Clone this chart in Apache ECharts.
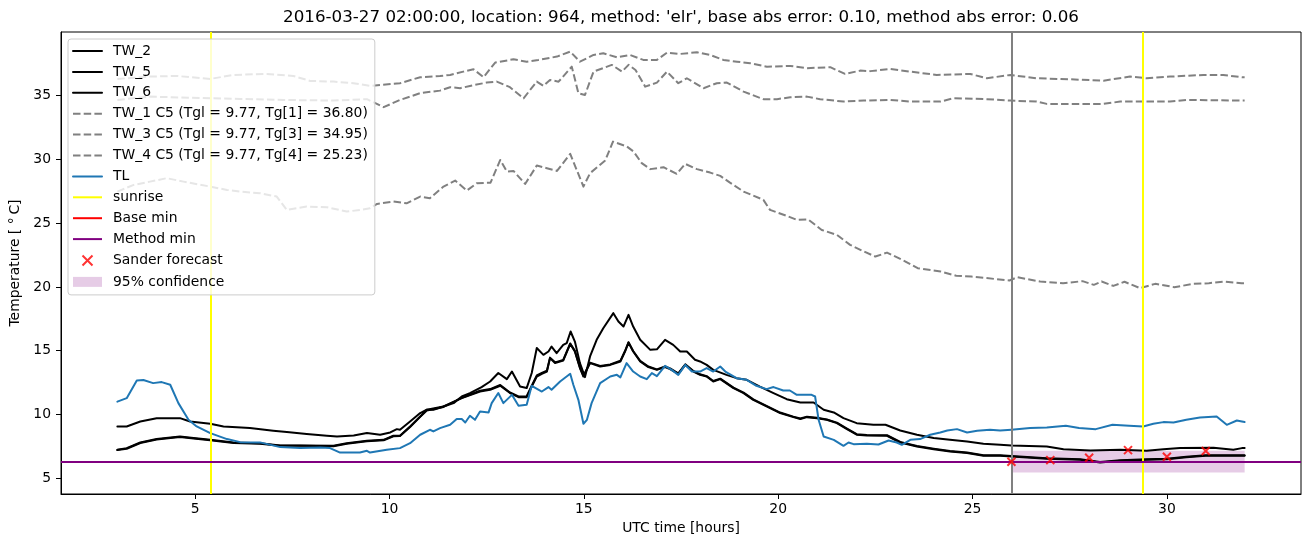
<!DOCTYPE html>
<html><head><meta charset="utf-8">
<script src="https://cdn.jsdelivr.net/npm/echarts@6/dist/echarts.min.js"></script>
<style>html,body{margin:0;padding:0;background:#fff}#c{width:1310px;height:547px}</style>
</head><body><div id="c"></div>
<script>
const TITLE = "2016-03-27 02:00:00, location: 964, method: 'elr', base abs error: 0.10, method abs error: 0.06";
const X_NAME = "UTC time [hours]";
const Y_NAME = "Temperature [ °\u2009C]";
const X_TICKS = [5, 10, 15, 20, 25, 30];
const Y_TICKS = [5, 10, 15, 20, 25, 30, 35];

const TW_2 = [[3.0,9.05],[3.24,9.05],[3.59,9.44],[4.01,9.7],[4.61,9.7],[4.87,9.44],[5.39,9.26],[5.73,9.05],[6.41,8.92],[7.01,8.71],[7.36,8.61],[7.87,8.45],[8.39,8.32],[8.65,8.26],[9.08,8.34],[9.42,8.53],[9.76,8.4],[10.02,8.58],[10.19,8.84],[10.27,8.79],[10.53,9.44],[10.79,10.1],[10.96,10.36],[11.13,10.36],[11.39,10.62],[11.65,10.88],[11.86,11.4],[12.07,11.67],[12.37,12.14],[12.59,12.58],[12.8,13.24],[13.02,12.76],[13.15,13.36],[13.36,12.18],[13.53,12.06],[13.66,13.24],[13.79,15.2],[13.96,14.67],[14.09,14.93],[14.17,15.32],[14.3,14.8],[14.47,15.45],[14.56,15.59],[14.66,16.5],[14.77,15.71],[14.9,14.02],[15.03,12.92],[15.16,14.54],[15.33,15.85],[15.5,16.76],[15.76,17.94],[15.89,17.28],[16.02,16.89],[16.15,17.81],[16.27,16.89],[16.45,15.85],[16.71,15.06],[16.88,15.1],[17.09,15.85],[17.3,15.45],[17.48,14.93],[17.65,14.93],[17.86,14.28],[17.99,14.15],[18.16,13.88],[18.33,13.49],[18.67,13.1],[18.93,12.84],[19.19,12.71],[19.53,12.18],[19.88,11.67],[20.22,11.19],[20.57,10.93],[20.91,10.93],[21.17,10.36],[21.43,10.15],[21.68,9.7],[22.02,9.31],[22.45,9.18],[22.76,9.18],[23.14,8.73],[23.57,8.4],[24.0,8.14],[24.42,8.0],[24.86,7.87],[25.28,7.69],[25.71,7.61],[26.0,7.56],[26.91,7.48],[27.34,7.27],[28.03,7.17],[28.8,7.22],[29.48,7.14],[29.91,7.27],[30.34,7.35],[31.2,7.38],[31.71,7.22],[31.93,7.35],[32.0,7.35]];

const TW_5 = [[3.0,7.22],[3.24,7.35],[3.59,7.79],[4.01,8.06],[4.61,8.26],[4.96,8.14],[5.39,8.0],[5.99,7.79],[6.67,7.74],[7.19,7.56],[7.7,7.56],[8.56,7.53],[8.9,7.74],[9.42,7.92],[9.85,8.0],[10.1,8.32],[10.27,8.32],[10.53,9.05],[10.79,9.83],[10.96,10.36],[11.39,10.62],[11.86,11.27],[12.33,11.79],[12.59,11.93],[12.85,12.24],[13.1,11.67],[13.32,11.35],[13.53,11.35],[13.66,12.18],[13.79,12.97],[13.92,13.18],[14.05,13.36],[14.13,14.41],[14.26,14.02],[14.47,14.22],[14.65,15.53],[14.77,14.93],[14.9,13.63],[14.99,12.97],[15.16,14.02],[15.42,13.75],[15.68,13.88],[15.94,14.15],[16.06,14.93],[16.15,15.63],[16.27,14.93],[16.45,14.15],[16.66,13.71],[16.88,13.49],[17.09,13.71],[17.22,13.55],[17.43,13.18],[17.61,13.88],[17.82,13.36],[17.99,13.1],[18.16,12.97],[18.33,12.58],[18.51,12.76],[18.85,12.06],[19.11,11.67],[19.36,11.14],[19.7,10.62],[20.05,10.1],[20.39,9.78],[20.57,9.63],[20.74,9.78],[21.0,9.7],[21.25,9.57],[21.51,9.31],[21.77,8.84],[22.02,8.4],[22.28,8.34],[22.8,8.32],[23.14,7.79],[23.57,7.48],[24.0,7.27],[24.42,7.09],[24.86,6.96],[25.28,6.75],[25.71,6.75],[26.0,6.69],[26.91,6.51],[27.77,6.43],[28.28,6.22],[28.8,6.35],[29.48,6.43],[30.0,6.48],[30.5,6.64],[31.0,6.75],[31.93,6.75],[32.0,6.75]];

const TW_6 = [[3.0,7.2],[3.24,7.3],[3.59,7.75],[4.01,8.02],[4.61,8.22],[4.96,8.1],[5.39,7.97],[5.99,7.76],[6.67,7.7],[7.19,7.53],[7.7,7.53],[8.56,7.5],[8.9,7.7],[9.42,7.88],[9.85,7.97],[10.1,8.28],[10.27,8.3],[10.53,9.0],[10.79,9.8],[10.96,10.3],[11.39,10.58],[11.86,11.3],[12.33,11.85],[12.59,11.98],[12.85,12.3],[13.1,11.72],[13.32,11.4],[13.53,11.42],[13.66,12.25],[13.79,13.05],[13.92,13.25],[14.05,13.42],[14.13,14.45],[14.26,14.08],[14.47,14.27],[14.65,15.56],[14.77,14.98],[14.9,13.68],[14.99,13.02],[15.16,14.06],[15.42,13.8],[15.68,13.92],[15.94,14.2],[16.06,14.97],[16.15,15.66],[16.27,14.97],[16.45,14.2],[16.66,13.75],[16.88,13.53],[17.09,13.75],[17.22,13.6],[17.43,13.22],[17.61,13.92],[17.82,13.4],[17.99,13.14],[18.16,13.0],[18.33,12.62],[18.51,12.8],[18.85,12.1],[19.11,11.7],[19.36,11.18],[19.7,10.66],[20.05,10.14],[20.39,9.82],[20.57,9.67],[20.74,9.82],[21.0,9.74],[21.25,9.6],[21.51,9.35],[21.77,8.88],[22.02,8.44],[22.28,8.38],[22.8,8.36],[23.14,7.83],[23.57,7.52],[24.0,7.31],[24.42,7.13],[24.86,7.0],[25.28,6.79],[25.71,6.79],[26.0,6.73],[26.91,6.55],[27.77,6.47],[28.28,6.26],[28.8,6.39],[29.48,6.47],[30.0,6.52],[30.5,6.68],[31.0,6.79],[31.93,6.79],[32.0,6.79]];

const TW_1 = [[3.0,36.32],[3.84,36.5],[4.53,36.55],[5.39,36.32],[5.99,36.63],[6.84,36.71],[7.53,36.55],[7.96,36.16],[8.56,36.11],[9.07,35.98],[9.5,35.77],[10.27,35.98],[10.79,36.45],[11.3,36.55],[11.56,36.63],[11.9,36.89],[12.16,37.08],[12.42,36.45],[12.72,37.6],[13.19,37.86],[13.53,37.67],[13.83,37.81],[14.31,38.07],[14.65,38.46],[14.9,37.67],[15.25,38.2],[15.5,38.33],[15.85,38.02],[16.19,38.2],[16.53,37.81],[16.88,37.81],[17.14,38.38],[17.48,38.28],[17.91,38.41],[18.25,38.2],[18.59,37.81],[18.94,37.67],[19.28,37.55],[19.71,37.28],[20.31,37.34],[20.74,37.16],[21.34,37.24],[21.72,36.71],[22.11,36.97],[22.37,36.93],[22.88,37.1],[23.4,36.89],[24.08,36.63],[24.94,36.71],[25.37,36.37],[25.97,36.63],[26.65,36.37],[27.51,36.29],[28.37,36.18],[29.05,36.5],[29.48,36.37],[30.08,36.5],[30.94,36.63],[31.45,36.63],[31.93,36.45],[32.0,36.45]];

const TW_3 = [[3.0,34.67],[3.84,34.93],[5.39,34.8],[6.16,34.75],[7.27,34.67],[8.56,34.62],[9.42,34.73],[9.85,34.1],[10.27,34.67],[10.79,35.2],[11.3,35.4],[11.56,35.67],[11.82,35.59],[12.07,35.77],[12.5,36.03],[12.76,36.11],[13.1,35.67],[13.45,34.8],[13.79,36.11],[13.96,35.77],[14.13,36.24],[14.35,36.1],[14.69,37.28],[14.86,35.2],[15.03,35.06],[15.25,36.89],[15.72,37.42],[15.98,36.89],[16.15,37.42],[16.33,37.02],[16.58,35.71],[16.88,36.03],[17.14,36.89],[17.43,35.98],[17.65,36.37],[18.08,35.59],[18.42,35.98],[18.68,36.03],[19.11,35.32],[19.62,34.73],[19.97,34.73],[20.31,34.88],[20.74,34.93],[21.08,34.73],[21.68,34.54],[22.2,34.62],[22.88,34.67],[23.4,34.54],[24.17,34.54],[24.51,34.8],[25.37,34.73],[25.97,34.62],[26.65,34.54],[26.91,34.36],[28.37,34.36],[28.8,34.54],[30.08,34.54],[30.51,34.67],[31.93,34.62],[32.0,34.62]];

const TW_4 = [[3.0,27.48],[3.42,28.0],[3.84,28.26],[4.27,28.53],[4.7,28.26],[5.39,27.87],[5.82,27.61],[6.16,27.48],[6.67,27.35],[7.1,27.09],[7.36,26.04],[7.87,26.3],[8.39,26.25],[8.9,25.91],[9.25,26.04],[9.5,26.17],[9.68,26.51],[10.1,26.7],[10.44,26.56],[10.79,27.09],[11.04,26.96],[11.39,27.87],[11.69,28.34],[11.99,27.56],[12.25,28.14],[12.6,28.18],[12.85,29.96],[13.02,29.05],[13.19,29.1],[13.49,28.08],[13.79,29.52],[14.05,29.31],[14.31,29.1],[14.65,30.44],[14.99,27.87],[15.16,28.92],[15.55,29.91],[15.75,31.4],[16.11,31.01],[16.28,30.62],[16.49,29.71],[16.71,29.24],[17.05,29.39],[17.39,28.87],[17.61,29.65],[17.91,29.24],[18.25,28.97],[18.51,28.71],[18.76,28.18],[19.11,27.48],[19.62,26.83],[19.79,26.04],[20.22,25.57],[20.48,25.26],[20.77,25.3],[21.12,24.47],[21.51,24.08],[21.85,23.3],[22.21,22.77],[22.5,22.38],[22.8,22.69],[23.19,22.12],[23.59,21.47],[24.18,21.21],[24.58,20.87],[24.97,20.81],[25.36,20.69],[25.95,20.5],[26.15,20.76],[26.74,20.42],[27.33,20.29],[27.83,20.45],[28.12,20.16],[28.32,20.42],[28.62,20.08],[28.91,20.4],[29.31,19.9],[29.7,20.24],[30.19,19.98],[30.69,20.24],[31.08,20.29],[31.48,20.42],[31.92,20.29],[32.0,20.29]];

const TL = [[3.0,11.0],[3.24,11.27],[3.5,12.66],[3.67,12.7],[3.92,12.45],[4.14,12.53],[4.36,12.32],[4.57,10.88],[4.83,9.57],[5.04,9.05],[5.39,8.53],[5.82,8.06],[6.16,7.82],[6.67,7.8],[7.19,7.43],[7.7,7.35],[8.22,7.4],[8.47,7.35],[8.73,7.0],[9.24,7.0],[9.42,7.14],[9.5,7.0],[9.93,7.22],[10.27,7.35],[10.53,7.74],[10.79,8.4],[11.04,8.79],[11.13,8.66],[11.3,8.92],[11.56,9.18],[11.73,9.63],[11.86,9.63],[11.95,9.36],[12.07,9.89],[12.2,9.57],[12.33,10.22],[12.55,10.15],[12.63,10.88],[12.8,11.67],[12.93,10.88],[13.15,11.53],[13.32,10.67],[13.53,10.75],[13.66,12.24],[13.92,11.79],[14.09,12.14],[14.17,11.93],[14.39,12.58],[14.65,13.18],[14.73,12.32],[14.86,11.14],[14.99,9.26],[15.08,9.57],[15.2,10.88],[15.42,12.45],[15.68,12.97],[15.85,13.1],[15.94,12.9],[16.1,14.02],[16.27,13.36],[16.45,12.97],[16.62,12.76],[16.75,13.24],[16.88,13.0],[17.09,13.81],[17.26,13.49],[17.43,13.1],[17.61,13.88],[17.78,13.36],[17.99,13.36],[18.16,13.63],[18.33,13.36],[18.51,13.75],[18.64,13.36],[18.93,12.84],[19.19,12.71],[19.44,12.24],[19.7,11.98],[19.88,12.14],[20.13,11.87],[20.3,11.87],[20.48,11.53],[20.86,11.53],[20.95,11.4],[21.04,9.57],[21.17,8.26],[21.43,8.0],[21.68,7.53],[21.81,7.79],[21.94,7.66],[22.28,7.69],[22.58,7.63],[22.84,7.95],[23.05,7.79],[23.18,7.61],[23.4,8.0],[23.65,8.06],[23.91,8.4],[24.17,8.58],[24.35,8.73],[24.6,8.84],[24.86,8.58],[25.12,8.71],[25.45,8.79],[25.71,8.73],[26.0,8.79],[26.48,8.92],[26.91,8.97],[27.4,9.1],[27.74,8.92],[28.17,8.84],[28.6,9.18],[29.03,9.1],[29.39,9.05],[29.65,9.26],[29.91,9.39],[30.17,9.36],[30.5,9.57],[30.85,9.75],[31.28,9.83],[31.54,9.18],[31.8,9.52],[31.93,9.44],[32.0,9.4]];

const SUNRISE = [5.40, 29.39];
const NOW_TIME = 26.0;
const BASE_MIN = 6.28;
const METHOD_MIN = 6.28;
const SANDER_T = [26, 27, 28, 29, 30, 31];
const SANDER_V = [6.28, 6.41, 6.59, 7.19, 6.67, 7.12];
const CONF_START = 26.0, CONF_END = 32.0;
const CONF_LOW = 5.44, CONF_HIGH = 7.14;

const LABELS = {
  tw2: 'TW_2', tw5: 'TW_5', tw6: 'TW_6',
  tw1: 'TW_1 C5 (Tgl = 9.77, Tg[1] = 36.80)',
  tw3: 'TW_3 C5 (Tgl = 9.77, Tg[3] = 34.95)',
  tw4: 'TW_4 C5 (Tgl = 9.77, Tg[4] = 25.23)',
  tl: 'TL', sunrise: 'sunrise', base: 'Base min', method: 'Method min',
  sander: 'Sander forecast', conf: '95% confidence'
};

const FONT = 'DejaVu Sans';
const XMARK = 'path://M0,0L10,10M10,0L0,10';

function lineSeries(name, data, color, dashed) {
  return {
    name, type: 'line', data, symbol: 'none', showSymbol: false, z: 2,
    animation: false, silent: true,
    itemStyle: { color },
    lineStyle: { color, width: 2, type: dashed ? [7.5, 3.2] : 'solid', join: 'round', cap: dashed ? 'butt' : 'round' }
  };
}
function markLineSeries(name, color, lines, z) {
  return {
    name, type: 'line', data: [], symbol: 'none', z: 2,
    itemStyle: { color }, lineStyle: { color, width: 2 },
    markLine: {
      silent: true, symbol: ['none', 'none'], z: z, animation: false,
      label: { show: false }, lineStyle: { color, width: 2, type: 'solid' },
      emphasis: { disabled: true },
      data: lines
    }
  };
}
function lineLegend(name) {
  return { name, itemStyle: { opacity: 0 } };
}

const chart = echarts.init(document.getElementById('c'), null, { renderer: 'canvas' });
const option = {
  animation: false,
  backgroundColor: '#fff',
  textStyle: { fontFamily: FONT },
  graphic: [{
    type: 'text', x: 681, y: 18, z: 10,
    style: { text: TITLE, fill: '#000', font: '16.7px "DejaVu Sans"', align: 'center', verticalAlign: 'middle' }
  }],
  grid: { left: 61, right: 9, top: 32, bottom: 53, show: true, borderColor: '#000', borderWidth: 1, backgroundColor: 'transparent' },
  legend: {
    orient: 'vertical', left: 68, top: 39,
    padding: [5, 7, 6, 4],
    itemWidth: 29, itemHeight: 10, itemGap: 6.9,
    backgroundColor: 'rgba(255,255,255,0.8)', borderColor: '#cccccc', borderWidth: 1, borderRadius: 3,
    textStyle: { fontFamily: FONT, fontSize: 13.9, color: '#000', lineHeight: 14, padding: [0, 0, 0, 6] },
    selectedMode: false, z: 4,
    data: [
      lineLegend(LABELS.tw2), lineLegend(LABELS.tw5), lineLegend(LABELS.tw6),
      lineLegend(LABELS.tw1), lineLegend(LABELS.tw3), lineLegend(LABELS.tw4), lineLegend(LABELS.tl),
      lineLegend(LABELS.sunrise), lineLegend(LABELS.base), lineLegend(LABELS.method),
      { name: LABELS.sander, icon: XMARK, itemStyle: { color: 'none', borderColor: 'red', borderWidth: 2 } },
      { name: LABELS.conf, icon: 'rect' }
    ]
  },
  xAxis: {
    type: 'value', min: 1.55, max: 33.45,
    name: X_NAME, nameLocation: 'middle', nameGap: 27,
    nameTextStyle: { fontFamily: FONT, fontSize: 13.9, color: '#000' },
    axisLine: { show: true, lineStyle: { color: '#000', width: 1 } },
    axisTick: { show: true, length: 5, inside: false, customValues: X_TICKS, lineStyle: { color: '#000', width: 1 } },
    axisLabel: { show: true, customValues: X_TICKS, margin: 8, fontFamily: FONT, fontSize: 13.9, color: '#000' },
    splitLine: { show: false }
  },
  yAxis: {
    type: 'value', min: 3.75, max: 40.0,
    name: Y_NAME, nameLocation: 'middle', nameGap: 36,
    nameTextStyle: { fontFamily: FONT, fontSize: 13.9, color: '#000' },
    axisLine: { show: true, lineStyle: { color: '#000', width: 1 } },
    axisTick: { show: true, length: 5, inside: false, customValues: Y_TICKS, lineStyle: { color: '#000', width: 1 } },
    axisLabel: { show: true, customValues: Y_TICKS, margin: 10, fontFamily: FONT, fontSize: 13.9, color: '#000' },
    splitLine: { show: false }
  },
  series: [
    {
      name: LABELS.conf, type: 'custom', z: 1, silent: true,
      itemStyle: { color: 'rgba(128,0,128,0.2)' },
      encode: { x: [0, 1], y: [2, 3] },
      data: [[CONF_START, CONF_END, CONF_LOW, CONF_HIGH]],
      renderItem: function (params, api) {
        const p1 = api.coord([api.value(0), api.value(3)]);
        const p2 = api.coord([api.value(1), api.value(2)]);
        return { type: 'rect', shape: { x: p1[0], y: p1[1], width: p2[0] - p1[0], height: p2[1] - p1[1] },
                 style: { fill: 'rgba(128,0,128,0.2)' } };
      }
    },
    lineSeries(LABELS.tw2, TW_2, '#000', false),
    lineSeries(LABELS.tw5, TW_5, '#000', false),
    lineSeries(LABELS.tw6, TW_6, '#000', false),
    lineSeries(LABELS.tw1, TW_1, '#808080', true),
    lineSeries(LABELS.tw3, TW_3, '#808080', true),
    lineSeries(LABELS.tw4, TW_4, '#808080', true),
    lineSeries(LABELS.tl, TL, '#1f77b4', false),
    markLineSeries(LABELS.sunrise, '#ffff00', SUNRISE.map(v => ({ xAxis: v })), 3),
    markLineSeries(LABELS.base, '#ff0000', [{ yAxis: BASE_MIN }], 3),
    markLineSeries(LABELS.method, '#800080', [{ yAxis: METHOD_MIN }], 3),
    markLineSeries('now', '#808080', [{ xAxis: NOW_TIME }], 3),
    {
      name: LABELS.sander, type: 'scatter', z: 3, silent: true,
      symbol: XMARK, symbolSize: 8,
      itemStyle: { color: 'none', borderColor: '#ff0000', borderWidth: 2 },
      data: SANDER_T.map((t, i) => [t, SANDER_V[i]])
    }
  ]
};
chart.setOption(option);
</script>
</body></html>
